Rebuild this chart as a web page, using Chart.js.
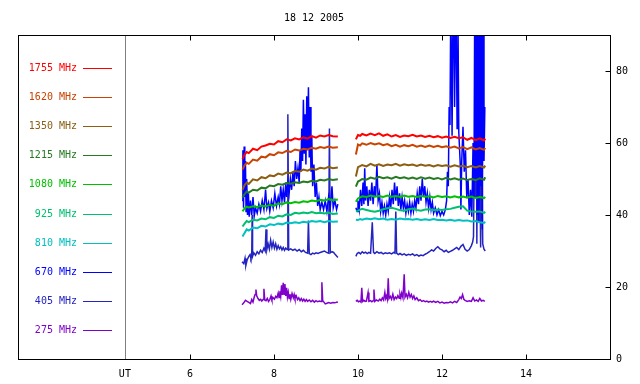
<!DOCTYPE html>
<html><head><meta charset="utf-8">
<script src="https://cdn.jsdelivr.net/npm/chart.js@4/dist/chart.umd.min.js"></script>
<style>html,body{margin:0;padding:0;background:#fff}#wrap{width:640px;height:384px}</style>
</head><body><div id="wrap"><canvas id="c" width="640" height="384"></canvas></div>
<script>
const chartTitle = '18 12 2005';
const freqLabels = ['1755 MHz','1620 MHz','1350 MHz','1215 MHz','1080 MHz','925 MHz','810 MHz','670 MHz','405 MHz','275 MHz'];
const colors = ['#ff0000','#c84400','#8b5e12','#267a22','#00c000','#00c070','#00c0c0','#0000ff','#2424c0','#8000cc'];
const xTicks = [6, 8, 10, 12, 14];
const yTicks = [0, 20, 40, 60, 80];
const utMarker = 4.45;

// common time grid (UT hours) for the smooth channels
const tSmooth = [7.25,7.30,7.35,7.40,7.50,7.60,7.70,7.80,7.90,8.00,8.10,8.20,8.30,8.40,8.50,8.60,8.70,8.80,8.90,9.00,9.10,9.20,9.30,9.40,9.52,
  9.75,
  9.95,10.00,10.05,10.1,10.2,10.3,10.4,10.5,10.6,10.7,10.8,10.9,11.0,11.1,11.2,11.3,11.4,11.5,11.6,11.7,11.8,11.9,12.0,12.1,12.2,12.3,12.4,12.5,12.6,12.7,12.8,12.9,13.0,13.03];

const s1755 = [55.5,56.8,57.5,57.2,58.4,58.0,59.0,59.3,59.8,59.6,60.5,60.2,61.0,60.7,61.3,61.0,61.6,61.2,61.9,61.5,62.1,61.8,62.2,61.9,61.8,
  null,
  61.0,62.2,62.0,62.5,62.1,62.6,62.2,62.7,62.0,62.4,61.8,62.2,61.7,62.1,61.9,62.3,61.8,62.1,61.7,62.0,61.6,61.9,61.5,61.8,61.4,61.7,61.3,61.6,60.9,61.4,60.8,61.3,60.7,61.2];
const s1620 = [52.6,53.8,54.5,54.2,55.4,55.1,56.2,56.0,56.9,56.6,57.4,57.2,57.8,57.5,58.2,57.9,58.4,58.2,58.7,58.4,58.9,58.6,59.0,58.7,58.8,
  null,
  56.8,59.6,59.3,59.9,59.5,60.0,59.6,59.9,59.4,59.7,59.1,59.5,59.0,59.4,59.1,59.5,59.0,59.3,58.9,59.3,58.9,59.2,58.8,59.1,58.7,59.0,58.5,58.9,58.3,58.8,58.2,58.6,58.1,58.6];
const s1350 = [47.0,48.3,49.0,48.6,49.9,49.6,50.5,50.2,51.0,50.8,51.5,51.2,51.8,51.6,52.2,52.0,52.6,52.3,52.9,52.6,53.1,52.9,53.4,53.0,53.2,
  null,
  50.7,53.3,53.6,53.9,53.5,54.2,53.7,54.1,53.6,54.0,53.8,54.2,53.7,54.1,53.8,54.0,53.6,54.0,53.7,53.9,53.5,53.9,53.6,53.8,53.4,53.8,53.5,53.7,53.3,53.6,53.2,53.6,53.2,53.7];
const s1215 = [44.9,45.8,46.5,46.2,47.0,46.8,47.6,47.4,48.2,48.0,48.6,48.4,48.9,48.7,49.1,48.9,49.3,49.1,49.5,49.3,49.8,49.6,50.0,49.7,49.9,
  null,
  47.9,49.3,49.6,50.0,49.8,50.4,50.1,50.6,50.2,50.5,50.1,50.6,50.2,50.5,50.1,50.4,50.0,50.5,50.1,50.4,50.0,50.3,49.9,50.3,49.9,50.2,49.8,50.1,49.7,50.0,49.7,50.2,49.8,50.5];
const s1080 = [41.0,41.8,42.3,42.1,42.4,42.2,42.6,42.4,42.8,42.6,43.2,43.0,43.5,43.3,43.6,43.4,43.8,43.6,44.0,43.8,44.2,44.0,44.4,44.1,44.3,
  null,
  43.7,44.6,44.9,45.2,45.0,45.4,45.1,45.3,45.0,45.4,45.1,45.3,45.0,45.4,45.1,45.3,45.0,45.3,45.1,45.2,44.9,45.3,45.0,45.2,44.9,45.2,44.9,45.1,44.8,45.1,44.7,45.0,44.7,45.0];
const s925 = [36.8,37.6,38.3,38.0,38.7,38.5,39.0,38.8,39.4,39.2,39.8,39.6,40.2,40.0,40.6,40.4,40.7,40.5,40.8,40.5,40.6,40.4,40.7,40.3,40.4,
  null,
  41.0,41.2,41.5,41.7,41.4,41.1,40.9,41.2,41.6,41.9,42.0,41.7,41.3,41.2,41.6,41.8,41.4,41.2,41.5,41.6,41.3,41.5,41.4,41.6,41.7,42.0,42.3,42.4,41.2,41.0,40.9,41.0,40.6,40.9];
const s810 = [34.0,35.0,36.0,35.7,36.5,36.3,37.0,36.8,37.4,37.2,37.6,37.4,37.9,37.7,38.0,37.8,38.1,37.9,38.3,38.1,38.3,38.0,38.3,38.1,38.2,
  null,
  38.7,38.6,38.9,38.7,39.0,38.8,39.1,38.8,39.0,38.7,38.9,38.7,39.0,38.8,38.9,38.7,38.9,38.6,38.8,38.6,38.9,38.6,38.7,38.5,38.7,38.4,38.6,38.4,38.5,38.2,38.3,38.0,37.8,38.1];

// 670 MHz (own time samples)
const t670 = [7.24,7.26,7.275,7.29,7.305,7.32,7.335,7.35,7.37,7.39,
  7.41,7.44,7.47,7.50,7.53,7.56,7.60,7.64,7.68,7.72,
  7.76,7.80,7.83,7.87,7.90,7.94,7.98,8.02,8.06,8.10,
  8.13,8.16,8.19,8.22,8.25,8.28,8.30,8.33,8.36,8.39,
  8.42,8.45,8.48,8.51,8.54,8.57,8.60,8.62,8.64,8.66,
  8.68,8.70,8.72,8.74,8.76,8.78,8.80,8.82,8.84,8.86,
  8.88,8.90,8.92,8.95,8.98,9.01,9.04,9.07,9.10,9.14,
  9.18,9.22,9.26,9.30,9.34,9.38,9.41,9.45,9.49,9.52,
  9.75,
  9.95,9.98,10.00,10.03,10.06,10.09,10.12,10.14,10.16,10.18,
  10.21,10.24,10.27,10.30,10.33,10.36,10.39,10.42,10.45,10.48,
  10.51,10.54,10.57,10.60,10.63,10.66,10.69,10.72,10.75,10.78,
  10.81,10.84,10.87,10.90,10.93,10.96,10.99,11.02,11.05,11.08,
  11.11,11.14,11.17,11.20,11.23,11.26,11.29,11.32,11.35,11.38,
  11.41,11.44,11.47,11.50,11.53,11.56,11.59,11.62,11.65,11.68,
  11.71,11.74,11.77,11.80,11.84,11.88,11.92,11.96,12.00,12.04,
  12.08,12.11,12.13,12.15,12.17,12.19,12.21,12.24,12.27,12.30,
  12.33,12.36,12.38,12.40,12.42,12.44,12.45,12.47,12.50,12.53,
  12.56,12.59,12.62,12.65,12.68,12.71,12.74,12.76,12.78,12.80,
  12.82,12.84,12.86,12.88,12.90,12.92,12.94,12.96,12.98,13.00,
  13.02];
const v670 = [44,58,42,59,45,55,41,50,40,46,
  39.5,44,40,45,39.8,42,40.5,43,41,44,
  41.5,47,41.8,43.5,41,44,42,46,42.5,45,
  43,48,44,47,43.5,49,45,49,46,50,
  47,52,48,55,50,53,49,58,52,64,
  55,72,57,68,54,73,58,75.5,56,70,
  52,62,48,54,45,49,42.5,45,41.5,43.5,
  41.5,44,41,45,42,48,42,44,41.5,43,
  null,
  42,41,44,41.5,47,42.5,49,43,53,44,
  48,42.5,47,44,49,43,48,45,54,44,
  46,41,43.5,40.5,42.5,40,43,41,45,42,
  47,43,49,44,48,42.5,46,41.5,45,42,
  44,40.5,43,41,43.5,40.5,43,41,44,42,
  46,43,48,44,50,45,48,43.5,46,42,
  45,41.5,43.5,40.5,42,40,41.5,39.8,41,40,
  41.5,44,52,48,70,65,100,62,110,70,
  105,64,95,63,58,52.6,41.5,55,64.5,52,
  58,45,50,40,47,39.5,60,45,100,50,
  110,40,95,38,105,48,110,36,100,55,
  70];

// 405 MHz
const t405 = [7.24,7.28,7.31,7.33,7.36,7.40,7.43,7.45,7.47,7.48,
  7.49,7.52,7.56,7.60,7.64,7.68,7.72,7.76,7.79,7.81,
  7.83,7.86,7.89,7.92,7.95,7.98,8.01,8.04,8.07,8.10,
  8.13,8.16,8.19,8.22,8.25,8.28,8.31,8.33,8.35,8.40,
  8.45,8.50,8.55,8.60,8.65,8.70,8.75,8.80,8.82,8.84,
  8.88,8.92,8.96,9.00,9.05,9.10,9.15,9.20,9.25,9.30,
  9.32,9.34,9.38,9.42,9.46,9.50,9.52,
  9.75,
  9.95,9.98,10.02,10.06,10.10,10.14,10.18,10.22,10.26,10.30,
  10.34,10.37,10.40,10.45,10.50,10.55,10.60,10.65,10.70,10.75,
  10.80,10.85,10.88,10.90,10.92,10.96,11.00,11.05,11.10,11.15,
  11.20,11.25,11.30,11.35,11.40,11.45,11.50,11.55,11.60,11.65,
  11.70,11.75,11.80,11.85,11.90,11.95,12.00,12.05,12.10,12.15,
  12.20,12.25,12.30,12.35,12.40,12.45,12.50,12.55,12.60,12.65,
  12.70,12.73,12.75,12.77,12.79,12.81,12.83,12.85,12.87,12.89,
  12.92,12.95,12.97,13.00,13.03];
const v405 = [27,26.5,28,26,27.5,28.5,29,28,28.8,40,
  28.5,29.5,28.8,29.8,29.2,30.2,29.6,30.8,30.0,36,
  30.4,32,30.5,33,31,32.5,30.8,32,30.5,31.5,
  30.6,31.2,30.3,31,30.2,30.8,30.4,68,30.3,30.6,
  30.2,30.5,30.0,30.4,29.8,30.2,29.6,29.4,38.5,29.3,
  29.0,29.4,29.2,29.5,29.3,29.6,29.8,30.0,29.6,29.4,
  64,29.5,29.8,29.6,29.0,28.5,28.2,
  null,
  28.5,29.3,29.6,29.2,29.8,29.4,29.7,29.3,29.6,29.4,
  38,29.6,29.3,29.8,29.4,29.6,29.2,29.5,29.3,29.5,
  29.2,29.6,29.4,41,29.4,29.0,29.3,28.9,29.2,28.8,
  29.1,28.9,29.2,28.7,29.0,28.6,28.9,28.7,29.1,29.4,
  29.8,30.3,30.0,30.7,31.2,30.6,30.3,29.8,30.2,29.6,
  29.9,30.2,30.6,31.0,30.4,31.3,31.8,30.5,30.0,30.4,
  31.5,32.5,34,60,45,95,32,90,38,70,
  31,60,32,30.5,30];

// 275 MHz
const t275 = [7.24,7.28,7.32,7.36,7.40,7.44,7.47,7.50,7.53,7.55,
  7.57,7.59,7.62,7.65,7.68,7.71,7.74,7.76,7.78,7.81,
  7.84,7.87,7.90,7.93,7.95,7.98,8.01,8.04,8.07,8.10,
  8.12,8.14,8.16,8.18,8.20,8.22,8.24,8.26,8.28,8.30,
  8.32,8.34,8.36,8.38,8.40,8.43,8.46,8.48,8.50,8.53,
  8.56,8.59,8.62,8.65,8.68,8.71,8.74,8.77,8.80,8.84,
  8.88,8.92,8.96,9.00,9.04,9.08,9.12,9.14,9.16,9.19,
  9.22,9.26,9.30,9.35,9.40,9.45,9.50,9.52,
  9.75,
  9.95,9.98,10.01,10.04,10.07,10.09,10.11,10.14,10.17,10.20,
  10.24,10.26,10.30,10.33,10.36,10.38,10.40,10.44,10.48,10.52,
  10.55,10.58,10.61,10.64,10.66,10.68,10.70,10.72,10.74,10.77,
  10.80,10.83,10.86,10.89,10.92,10.95,10.98,11.00,11.02,11.04,
  11.07,11.10,11.12,11.15,11.18,11.21,11.24,11.27,11.30,11.33,
  11.36,11.40,11.44,11.48,11.52,11.56,11.60,11.64,11.68,11.72,
  11.76,11.80,11.85,11.90,11.95,12.00,12.05,12.10,12.15,12.20,
  12.25,12.30,12.35,12.40,12.43,12.46,12.49,12.52,12.55,12.60,
  12.65,12.70,12.74,12.78,12.82,12.86,12.90,12.94,12.98,13.02];
const v275 = [15.1,15.6,16.3,16.0,15.7,15.4,16.5,15.8,17.2,17.9,
  19.3,17.5,16.8,16.3,16.6,16.1,16.5,19.5,16.4,16.2,
  16.8,16.0,16.5,17.5,16.5,17.0,16.6,17.4,17.0,18.3,
  17.1,18.8,17.4,20.5,17.8,21.2,18.0,20.8,17.5,19.8,
  17.2,18.5,16.8,18.0,16.6,18.2,17.0,17.9,16.8,17.5,
  16.5,17.0,16.2,16.8,16.1,16.6,16.0,16.5,16.0,16.4,
  15.9,16.3,15.8,16.2,15.9,16.1,16.0,21.3,16.2,15.8,
  15.3,15.5,15.7,15.5,15.7,15.6,15.8,15.7,
  null,
  16.0,16.3,15.9,16.1,15.8,19.8,16.0,16.3,16.0,16.1,
  18.5,16.0,16.2,15.9,16.2,19.3,16.0,16.4,16.1,16.6,
  16.2,17.0,16.4,18.5,16.8,17.5,16.6,22.4,16.8,17.4,
  16.6,18.0,16.5,17.2,16.8,17.6,16.9,18.0,17.0,18.3,
  17.0,23.5,17.2,18.0,17.0,18.5,17.2,17.9,16.8,17.5,
  16.5,17.0,16.2,16.5,16.0,16.2,15.9,16.1,15.8,16.0,
  15.8,16.1,15.7,16.0,15.6,15.8,15.5,15.7,15.6,15.9,
  15.6,16.0,15.7,16.5,17.2,16.8,17.9,16.6,16.3,16.0,
  16.2,16.0,17.0,16.1,16.4,16.0,16.8,16.1,16.3,16.0];

const mono = "'DejaVu Sans Mono','Liberation Mono',monospace";
function pts(t, v) { return t.map((x, i) => ({ x: x, y: v[i] })); }

const series = [
  [tSmooth, s1755, 2], [tSmooth, s1620, 2], [tSmooth, s1350, 2], [tSmooth, s1215, 2],
  [tSmooth, s1080, 2], [tSmooth, s925, 2], [tSmooth, s810, 2],
  [t670, v670, 1.5], [t405, v405, 1.5], [t275, v275, 1.5]
];
const datasets = series.map((s, i) => ({
  label: freqLabels[i], data: pts(s[0], s[1]), borderColor: colors[i], borderWidth: s[2],
  pointRadius: 0, tension: 0, spanGaps: false, fill: false
}));

const framePlugin = {
  id: 'frame',
  beforeDatasetsDraw(chart) {
    const { ctx, chartArea: a, scales: { x } } = chart;
    ctx.save();
    const gx = Math.round(x.getPixelForValue(utMarker)) + 0.5;
    ctx.strokeStyle = '#808080'; ctx.lineWidth = 1;
    ctx.beginPath(); ctx.moveTo(gx, a.top); ctx.lineTo(gx, a.bottom); ctx.stroke();
    ctx.font = '10px ' + mono; ctx.textAlign = 'right'; ctx.textBaseline = 'middle';
    freqLabels.forEach((lab, i) => {
      const y = Math.round(67.5 + i * 29.2) + 0.5;
      ctx.fillStyle = colors[i];
      ctx.fillText(lab, 77, y);
      ctx.strokeStyle = colors[i];
      ctx.beginPath(); ctx.moveTo(83, y); ctx.lineTo(112, y); ctx.stroke();
    });
    ctx.restore();
  },
  afterDraw(chart) {
    const { ctx, chartArea: a, scales: { x, y } } = chart;
    ctx.save();
    ctx.strokeStyle = '#000'; ctx.lineWidth = 1;
    const L = a.left + 0.5, R = a.right + 0.5, T = a.top + 0.5, B = a.bottom + 0.5;
    ctx.strokeRect(L, T, R - L, B - T);
    ctx.beginPath();
    xTicks.forEach(v => {
      const px = Math.round(x.getPixelForValue(v)) + 0.5;
      ctx.moveTo(px, B); ctx.lineTo(px, B - 5);
      ctx.moveTo(px, T); ctx.lineTo(px, T + 5);
    });
    yTicks.forEach(v => {
      const py = Math.round(y.getPixelForValue(v)) + 0.5;
      ctx.moveTo(R, py); ctx.lineTo(R - 5, py);
    });
    ctx.stroke();
    ctx.fillStyle = '#000'; ctx.font = '10px ' + mono;
    ctx.textAlign = 'center'; ctx.textBaseline = 'middle';
    ctx.fillText(chartTitle, (a.left + a.right) / 2, 18);
    ctx.restore();
  }
};

new Chart(document.getElementById('c'), {
  type: 'line',
  data: { datasets: datasets },
  options: {
    responsive: false, animation: false, devicePixelRatio: 1,
    layout: { padding: { left: 18, top: 35, right: 0, bottom: 0 } },
    plugins: { legend: { display: false }, tooltip: { enabled: false }, title: { display: false } },
    scales: {
      x: {
        type: 'linear', position: 'bottom', min: 1.905, max: 16.0,
        afterFit: s => { s.height = 25; },
        afterBuildTicks: s => { s.ticks = [utMarker].concat(xTicks).map(v => ({ value: v })); },
        ticks: { callback: v => (v === utMarker ? 'UT' : String(v)), font: { family: mono, size: 10 }, color: '#000', padding: 9, maxRotation: 0, autoSkip: false },
        grid: { display: false, drawTicks: false }, border: { display: false }
      },
      y: {
        type: 'linear', position: 'right', min: 0, max: 90,
        afterFit: s => { s.width = 30; },
        afterBuildTicks: s => { s.ticks = yTicks.map(v => ({ value: v })); },
        ticks: { font: { family: mono, size: 10 }, color: '#000', padding: 6 },
        grid: { display: false, drawTicks: false }, border: { display: false }
      }
    }
  },
  plugins: [framePlugin]
});
</script>
</body></html>
